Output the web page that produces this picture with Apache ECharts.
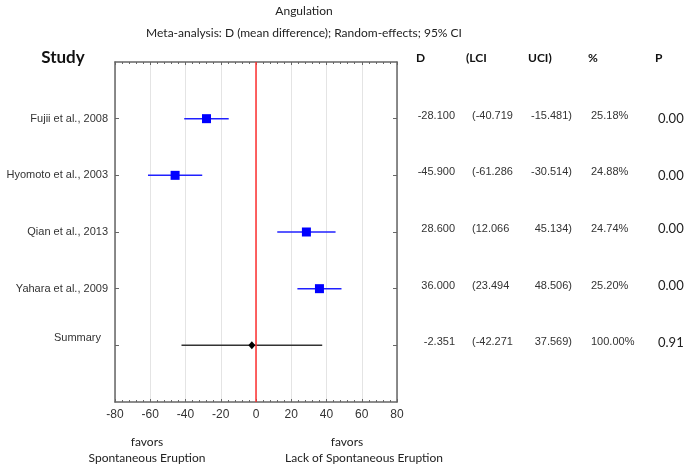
<!DOCTYPE html>
<html><head><meta charset="utf-8">
<script src="https://cdn.jsdelivr.net/npm/echarts@6/dist/echarts.min.js"></script>
<style>html,body{margin:0;padding:0;background:#fff}#c{width:685px;height:466px}</style>
</head><body><div id="c"></div>
<script>
// ---- data ----
const studies = ['Fujii et al., 2008', 'Hyomoto et al., 2003', 'Qian et al., 2013', 'Yahara et al., 2009'];
const summaryLabel = 'Summary';
const D   = [-28.100, -45.900, 28.600, 36.000];
const LCI = [-40.719, -61.286, 12.066, 23.494];
const UCI = [-15.481, -30.514, 45.134, 48.506];
const weights = ['25.18%', '24.88%', '24.74%', '25.20%'];
const pvals = ['0.00', '0.00', '0.00', '0.00'];
const sumD = -2.351, sumLCI = -42.271, sumUCI = 37.569, sumW = '100.00%', sumP = '0.91';
const xTicks = [-80, -60, -40, -20, 0, 20, 40, 60, 80];
const headers = ['D', '(LCI', 'UCI)', '%', 'P'];

const chart = echarts.init(document.getElementById('c'), null, {renderer: 'canvas'});
const titleFont = 'Lato, "Open Sans", sans-serif';
const armFont = '"Liberation Sans", Arial, sans-serif';
const axisCol = '#666';

const studyRows = studies.map((s, i) => i + 1);
const sumRow = studies.length + 1;

function ciItem(params, api) {
  const y = api.value(2);
  const p1 = api.coord([api.value(0), y]);
  const p2 = api.coord([api.value(1), y]);
  return {type: 'line', shape: {x1: p1[0], y1: p1[1], x2: p2[0], y2: p2[1]},
    style: {stroke: api.value(3) ? '#333' : '#2020ff', lineWidth: 1.5}};
}

const option = {
  animation: false,
  grid: {left: 115, right: 288, top: 62, bottom: 64},
  xAxis: [{
    type: 'value', min: xTicks[0], max: xTicks[xTicks.length - 1], interval: 20,
    axisLine: {show: true, onZero: false, lineStyle: {color: axisCol, width: 1.5}},
    axisTick: {show: true, inside: true, length: 3, lineStyle: {color: axisCol}},
    minorTick: {show: true, splitNumber: 5, length: 2, lineStyle: {color: axisCol}},
    axisLabel: {color: '#333', fontFamily: armFont, fontSize: 12, margin: 7},
    splitLine: {show: true, lineStyle: {color: '#e4e4e4', width: 1}}
  }, {
    type: 'value', position: 'top', min: -80, max: 80, interval: 20,
    axisLine: {show: true, onZero: false, lineStyle: {color: axisCol, width: 1.5}},
    axisTick: {show: true, inside: true, length: 3, lineStyle: {color: axisCol}},
    minorTick: {show: true, splitNumber: 5, length: 2, lineStyle: {color: axisCol}},
    axisLabel: {show: false}, splitLine: {show: false}
  }],
  yAxis: [{
    type: 'value', min: 0, max: 6, interval: 1, inverse: true,
    axisLine: {show: true, onZero: false, lineStyle: {color: axisCol, width: 1.5}},
    axisTick: {show: true, inside: true, length: 4, customValues: [1, 2, 3, 4, 5], lineStyle: {color: axisCol}},
    axisLabel: {
      customValues: [1, 2, 3, 4, 5], margin: 7, color: '#333', fontFamily: armFont, fontSize: 11,
      formatter: v => v <= studies.length ? studies[v - 1] : '{s|' + summaryLabel + '}',
      rich: {s: {fontFamily: armFont, fontSize: 11, color: '#333', padding: [0, 7, 14, 0]}}
    },
    splitLine: {show: false}
  }, {
    type: 'value', position: 'right', min: 0, max: 6, interval: 1, inverse: true,
    axisLine: {show: true, onZero: false, lineStyle: {color: axisCol, width: 1.5}},
    axisTick: {show: true, inside: true, length: 4, customValues: [1, 2, 3, 4, 5], lineStyle: {color: axisCol}},
    axisLabel: {show: false}, splitLine: {show: false}
  }],
  series: [{
    type: 'custom', renderItem: ciItem, silent: true, z: 3,
    data: studies.map((s, i) => [LCI[i], UCI[i], studyRows[i], 0]).concat([[sumLCI, sumUCI, sumRow, 1]]),
    markLine: {silent: true, symbol: 'none', label: {show: false},
      lineStyle: {color: '#ff3030', width: 1.5, type: 'solid'}, data: [{xAxis: 0}]}
  }, {
    type: 'scatter', symbol: 'rect', symbolSize: 9, z: 4,
    itemStyle: {color: '#0000ff', opacity: 1},
    data: D.map((d, i) => [d, studyRows[i]])
  }, {
    type: 'scatter', symbol: 'diamond', symbolSize: [7, 8], z: 4,
    itemStyle: {color: '#000', opacity: 1},
    data: [[sumD, sumRow]]
  }]
};
chart.setOption(option);

// table & annotations
const rowY = r => chart.convertToPixel({yAxisIndex: 0}, r);
const els = [];
function txt(t, x, y, opts) {
  els.push({type: 'text', x: x, y: y, silent: true, style: Object.assign({
    text: t, fill: '#333', font: '11px ' + armFont, textAlign: 'left', textVerticalAlign: 'middle'}, opts || {})});
}
txt('Angulation', 304, 11, {textAlign: 'center', font: '12px ' + titleFont, fill: '#222'});
txt('Meta-analysis: D (mean difference); Random-effects; 95% CI', 304, 33, {textAlign: 'center', font: '12px ' + titleFont, fill: '#222'});
txt('Study', 63, 58, {textAlign: 'center', font: 'bold 17px ' + titleFont, fill: '#111'});
const hx = [416, 466, 528, 588, 655];
headers.forEach((h, i) => txt(h, hx[i], 58, {font: 'bold 12px ' + titleFont, fill: '#111'}));
const rows = studies.map((s, i) => ({d: D[i], l: LCI[i], u: UCI[i], w: weights[i], p: pvals[i], y: rowY(studyRows[i])}))
  .concat([{d: sumD, l: sumLCI, u: sumUCI, w: sumW, p: sumP, y: rowY(sumRow)}]);
rows.forEach((r, i) => {
  const y = r.y - 3;
  txt(r.d.toFixed(3), 455, y, {textAlign: 'right'});
  txt('(' + r.l.toFixed(3), 472, y);
  txt(r.u.toFixed(3) + ')', 572, y, {textAlign: 'right'});
  txt(r.w, 591, y);
  txt(r.p, 658, y + (i < 2 ? 3 : 0), {font: '13px ' + titleFont, fill: '#222'});
});
txt('favors', 147, 442, {textAlign: 'center', font: '12px ' + titleFont, fill: '#222'});
txt('Spontaneous Eruption', 147, 458, {textAlign: 'center', font: '12px ' + titleFont, fill: '#222'});
txt('favors', 347, 442, {textAlign: 'center', font: '12px ' + titleFont, fill: '#222'});
txt('Lack of Spontaneous Eruption', 364, 458, {textAlign: 'center', font: '12px ' + titleFont, fill: '#222'});
chart.setOption({graphic: {elements: els}});
</script></body></html>
